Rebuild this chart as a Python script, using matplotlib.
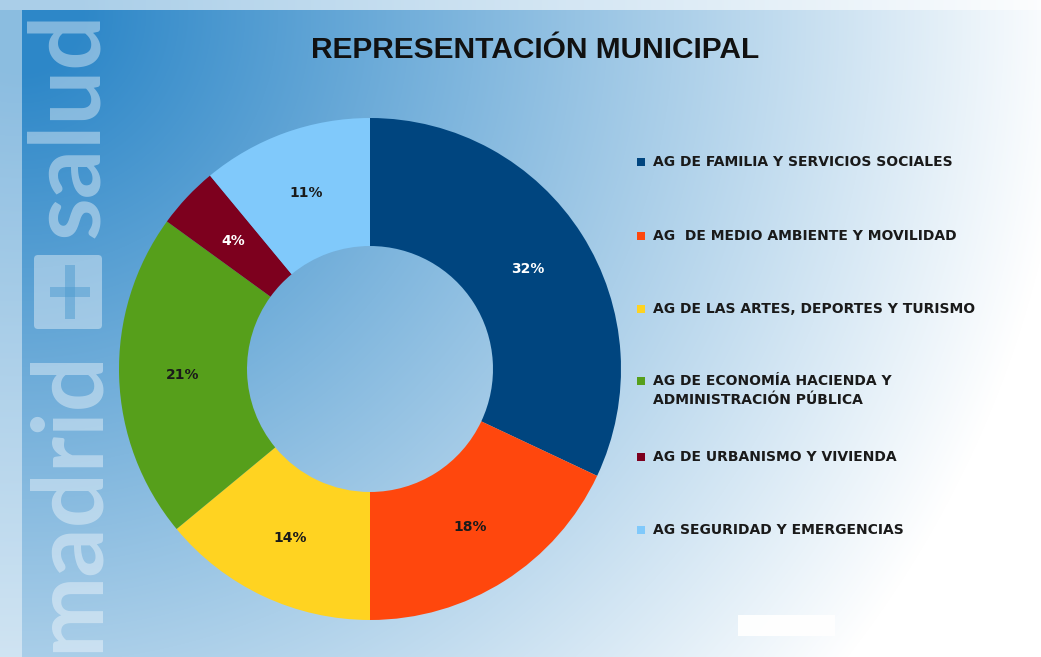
import numpy as np
import matplotlib
matplotlib.use("Agg")
import matplotlib.pyplot as plt
from matplotlib.patches import Rectangle, FancyBboxPatch

# ---- data ----
categories = [
    "AG DE FAMILIA Y SERVICIOS SOCIALES",
    "AG  DE MEDIO AMBIENTE Y MOVILIDAD",
    "AG DE LAS ARTES, DEPORTES Y TURISMO",
    "AG DE ECONOMÍA HACIENDA Y\nADMINISTRACIÓN PÚBLICA",
    "AG DE URBANISMO Y VIVIENDA",
    "AG SEGURIDAD Y EMERGENCIAS",
]
values = [32, 18, 14, 21, 4, 11]
colors = ["#00457f", "#ff470d", "#ffd321", "#569f1b", "#7d001e", "#80c9fb"]
label_colors = ["white", "#1a1a1a", "#1a1a1a", "#1a1a1a", "white", "#1a1a1a"]
title = "REPRESENTACIÓN MUNICIPAL"

W, H = 1041, 657
fig = plt.figure(figsize=(W / 100, H / 100), dpi=100)

# ---- background gradient (radial from top-left) ----
bg = fig.add_axes([0, 0, 1, 1], zorder=0)
yy, xx = np.mgrid[0:H, 0:W].astype(float)
d = np.hypot(xx - 20, yy - 10)
t = np.clip((d - 60) / 990, 0, 1)
blue = np.array([45, 135, 200]) / 255
white = np.array([1.0, 1.0, 1.0])
img = blue[None, None, :] * (1 - t[..., None]) + white[None, None, :] * t[..., None]
bg.imshow(img, extent=[0, W, H, 0], aspect="auto", interpolation="bilinear")
bg.set_xlim(0, W)
bg.set_ylim(H, 0)
bg.axis("off")
# lighter frame strips
bg.add_patch(Rectangle((0, 0), W, 10, color="white", alpha=0.6, lw=0))
bg.add_patch(Rectangle((0, 10), 22, H - 10, color="white", alpha=0.45, lw=0))
bg.add_patch(Rectangle((738, 615), 97, 21, color="white", alpha=0.95, lw=0))

# ---- watermark ----
wm_kw = dict(rotation=90, rotation_mode="anchor", ha="left", va="baseline",
             family=["Lato", "DejaVu Sans"], fontweight="bold", fontsize=70,
             color="white", alpha=0.4, zorder=1)
bg.text(98, 652, "madrid", **wm_kw)
bg.text(98, 238, "salud", **wm_kw)
bg.add_patch(FancyBboxPatch((34, 255), 68, 74, boxstyle="round,pad=0,rounding_size=4",
                            color="white", alpha=0.4, lw=0, zorder=1))
bg.add_patch(Rectangle((50, 287), 40, 10, color="#4d9bd0", alpha=0.5, lw=0, zorder=2))
bg.add_patch(Rectangle((65, 265), 10, 54, color="#4d9bd0", alpha=0.5, lw=0, zorder=2))

# ---- donut ----
cx, cy, R = 370, 369, 251
ax = fig.add_axes([(cx - R) / W, 1 - (cy + R) / H, 2 * R / W, 2 * R / H], zorder=2)
inner = 0.49
wedges, texts, autotexts = ax.pie(
    values, colors=colors, startangle=90, counterclock=False,
    radius=1, wedgeprops=dict(width=1 - inner, linewidth=0),
    autopct=lambda p: f"{p:.0f}%", pctdistance=(1 + inner) / 2,
    textprops=dict(family="DejaVu Sans", fontweight="bold", fontsize=10),
)
for at, c in zip(autotexts, label_colors):
    at.set_color(c)
ax.set_xlim(-1, 1)
ax.set_ylim(-1, 1)
ax.set_aspect("auto")
ax.axis("off")

# ---- title ----
fig.text(535 / W, 1 - 50 / H, title, ha="center", va="center",
         family="Liberation Sans", fontweight="bold", fontsize=21.5, color="#111111")

# ---- legend ----
leg_y = [162, 236, 309, 381, 457, 530]
for cat, col, y in zip(categories, colors, leg_y):
    fig.patches.append(Rectangle((637 / W, 1 - (y + 4) / H), 8 / W, 8 / H,
                                 transform=fig.transFigure, color=col, lw=0, zorder=3))
    fig.text(653 / W, 1 - (y - 7) / H if "\n" in cat else 1 - y / H, cat, ha="left",
             va="top" if "\n" in cat else "center",
             family="DejaVu Sans", fontweight="bold", fontsize=10, color="#1a1a1a",
             linespacing=1.45)

fig.savefig("out.png", dpi=100)
